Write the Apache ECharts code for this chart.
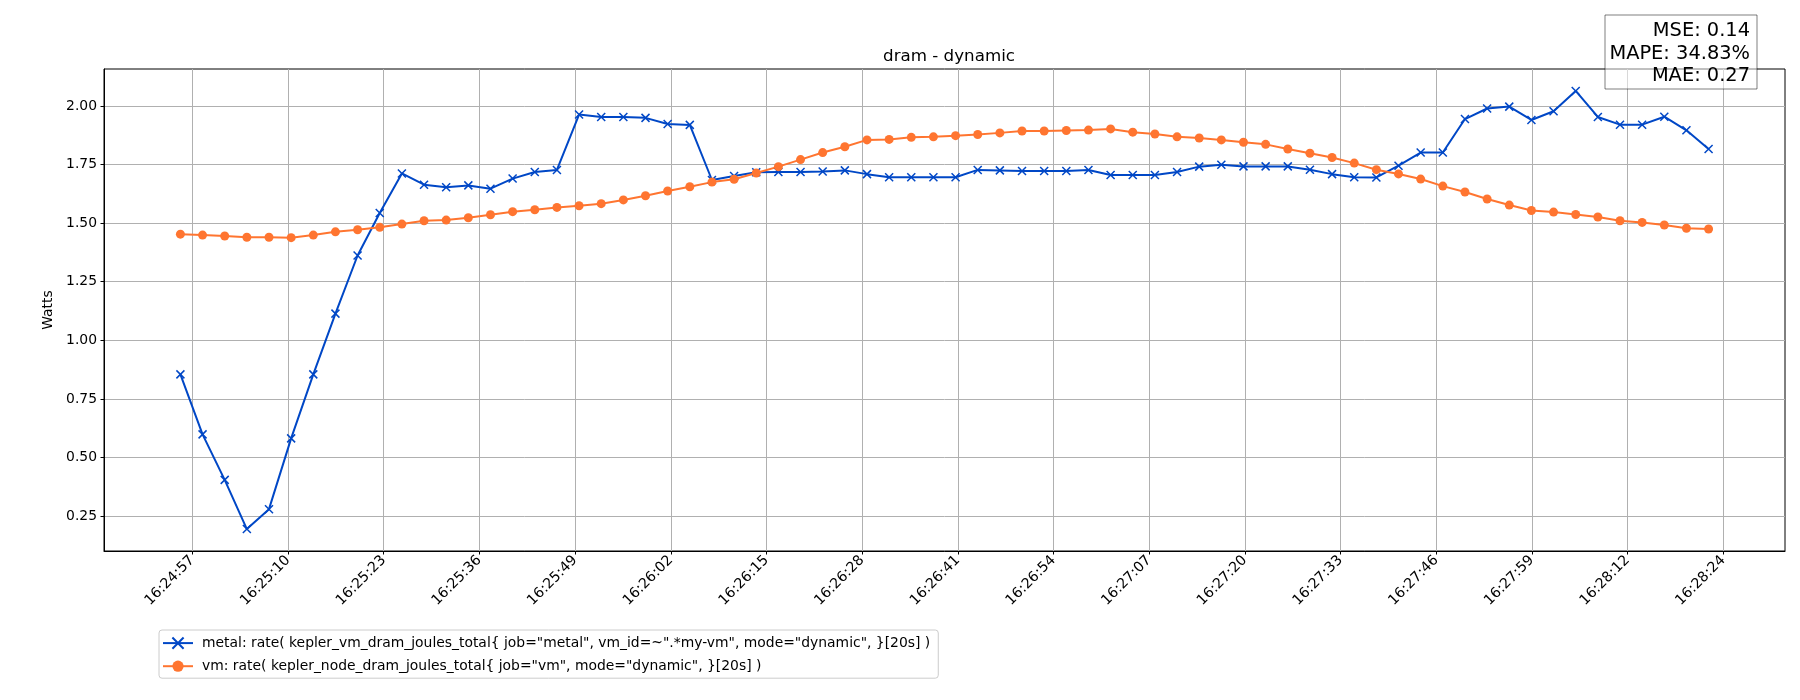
<!DOCTYPE html>
<html>
<head>
<meta charset="utf-8">
<title>dram - dynamic</title>
<script src="https://cdn.jsdelivr.net/npm/echarts@6/dist/echarts.min.js"></script>
<style>
  html, body { margin: 0; padding: 0; background: #fff; }
  #chart { width: 1800px; height: 700px; }
</style>
</head>
<body>
<div id="chart"></div>
<script>
// sample times (one every 3 s)
var times = [
  '16:24:56','16:24:59','16:25:02','16:25:05','16:25:08','16:25:11','16:25:14','16:25:17','16:25:20','16:25:23',
  '16:25:26','16:25:29','16:25:32','16:25:35','16:25:38','16:25:41','16:25:44','16:25:47','16:25:50','16:25:53',
  '16:25:56','16:25:59','16:26:02','16:26:05','16:26:08','16:26:11','16:26:14','16:26:17','16:26:20','16:26:23',
  '16:26:26','16:26:29','16:26:32','16:26:35','16:26:38','16:26:41','16:26:44','16:26:47','16:26:50','16:26:53',
  '16:26:56','16:26:59','16:27:02','16:27:05','16:27:08','16:27:11','16:27:14','16:27:17','16:27:20','16:27:23',
  '16:27:26','16:27:29','16:27:32','16:27:35','16:27:38','16:27:41','16:27:44','16:27:47','16:27:50','16:27:53',
  '16:27:56','16:27:59','16:28:02','16:28:05','16:28:08','16:28:11','16:28:14','16:28:17','16:28:20','16:28:23'
];

var metal = [
  0.855, 0.599, 0.405, 0.195, 0.280, 0.582, 0.855, 1.114, 1.362, 1.543,
  1.712, 1.664, 1.653, 1.661, 1.647, 1.690, 1.718, 1.727, 1.963, 1.953,
  1.953, 1.949, 1.923, 1.919, 1.684, 1.701, 1.717, 1.718, 1.718, 1.720,
  1.725, 1.709, 1.696, 1.696, 1.696, 1.696, 1.727, 1.725, 1.722, 1.722,
  1.722, 1.727, 1.705, 1.705, 1.705, 1.718, 1.741, 1.749, 1.742, 1.742,
  1.742, 1.728, 1.709, 1.696, 1.695, 1.745, 1.801, 1.801, 1.944, 1.989,
  1.997, 1.940, 1.977, 2.064, 1.953, 1.920, 1.920, 1.954, 1.896, 1.816
];

var vm = [
  1.453, 1.449, 1.445, 1.440, 1.440, 1.438, 1.449, 1.463, 1.472, 1.482,
  1.496, 1.510, 1.513, 1.523, 1.536, 1.549, 1.557, 1.567, 1.574, 1.583,
  1.599, 1.617, 1.637, 1.655, 1.675, 1.687, 1.714, 1.741, 1.771, 1.801,
  1.826, 1.855, 1.857, 1.866, 1.868, 1.873, 1.878, 1.885, 1.893, 1.893,
  1.895, 1.897, 1.902, 1.888, 1.880, 1.868, 1.863, 1.855, 1.845, 1.836,
  1.816, 1.798, 1.780, 1.756, 1.728, 1.710, 1.688, 1.658, 1.633, 1.603,
  1.577, 1.554, 1.547, 1.537, 1.526, 1.510, 1.503, 1.492, 1.478, 1.475
];

var xTickLabels = [
  '16:24:57','16:25:10','16:25:23','16:25:36','16:25:49','16:26:02','16:26:15','16:26:28','16:26:41',
  '16:26:54','16:27:07','16:27:20','16:27:33','16:27:46','16:27:59','16:28:12','16:28:24'
];
var yTicks = [0.25, 0.50, 0.75, 1.00, 1.25, 1.50, 1.75, 2.00];

var metalName = 'metal: rate( kepler_vm_dram_joules_total{ job="metal", vm_id=~".*my-vm", mode="dynamic", }[20s] )';
var vmName = 'vm: rate( kepler_node_dram_joules_total{ job="vm", mode="dynamic", }[20s] )';
var statsText = 'MSE: 0.14\nMAPE: 34.83%\nMAE: 0.27';

// seconds after 16:24:00
function toSec(t) {
  var p = t.split(':');
  return (+p[0] - 16) * 3600 + (+p[1] - 24) * 60 + (+p[2]);
}
var xs = times.map(toSec);

// ticks sit at fractional seconds, labels are truncated times
var tickStart = 57.62, tickStep = 12.96;
var xTickVals = xTickLabels.map(function (l, i) { return +(tickStart + i * tickStep).toFixed(3); });

var span = xs[xs.length - 1] - xs[0];
var xMin = xs[0] - span * 0.05, xMax = xs[xs.length - 1] + span * 0.05;
var lo = Math.min.apply(null, metal.concat(vm)), hi = Math.max.apply(null, metal.concat(vm));
var yMin = lo - (hi - lo) * 0.05, yMax = hi + (hi - lo) * 0.05;

var blue = '#0047c6';
var orange = '#ff7530';
var font = 'DejaVu Sans';

var chart = echarts.init(document.getElementById('chart'));
chart.setOption({
  animation: false,
  backgroundColor: '#fff',
  title: {
    text: 'dram - dynamic',
    left: 944, top: 43, textAlign: 'center',
    textStyle: { fontFamily: font, fontSize: 16.7, fontWeight: 'normal', color: '#000' }
  },
  grid: {
    left: 104, right: 15, top: 69, bottom: 149,
    show: true, borderColor: '#000', borderWidth: 1, backgroundColor: 'transparent'
  },
  legend: {
    orient: 'vertical',
    left: 159, top: 630,
    padding: [5, 8, 5, 3],
    itemWidth: 30, itemHeight: 14, itemGap: 8,
    borderColor: '#cccccc', borderWidth: 1, borderRadius: 3,
    backgroundColor: 'rgba(255,255,255,0.8)',
    textStyle: { fontFamily: font, fontSize: 13.9, color: '#000', padding: [0, 0, 0, 4] },
    data: [metalName, vmName]
  },
  xAxis: {
    type: 'value',
    min: xMin, max: xMax,
    axisLine: { show: true, onZero: false, lineStyle: { color: '#000', width: 1 } },
    axisTick: { show: true, length: 3.5, lineStyle: { color: '#000' }, customValues: xTickVals },
    axisLabel: {
      customValues: xTickVals,
      rotate: 45, margin: 7,
      fontFamily: font, fontSize: 14.2, color: '#000',
      formatter: function (v) {
        var best = 0;
        for (var i = 1; i < xTickVals.length; i++) {
          if (Math.abs(xTickVals[i] - v) < Math.abs(xTickVals[best] - v)) best = i;
        }
        return xTickLabels[best];
      }
    },
    splitLine: { show: true, lineStyle: { color: '#b0b0b0', width: 1 } }
  },
  yAxis: {
    type: 'value',
    min: yMin, max: yMax,
    name: 'Watts', nameLocation: 'middle', nameGap: 44,
    nameTextStyle: { fontFamily: font, fontSize: 13.9, color: '#000' },
    axisLine: { show: true, lineStyle: { color: '#000', width: 1 } },
    axisTick: { show: true, length: 3.5, lineStyle: { color: '#000' }, customValues: yTicks },
    axisLabel: {
      customValues: yTicks, margin: 7,
      fontFamily: font, fontSize: 13.9, color: '#000',
      formatter: function (v) { return v.toFixed(2); }
    },
    splitLine: { show: true, lineStyle: { color: '#b0b0b0', width: 1 } }
  },
  series: [
    {
      name: metalName,
      type: 'line',
      data: xs.map(function (x, i) { return [x, metal[i]]; }),
      symbol: 'path://M0,0L10,10M10,0L0,10',
      symbolSize: 8,
      showAllSymbol: true,
      lineStyle: { color: blue, width: 2 },
      itemStyle: { color: 'none', borderColor: blue, borderWidth: 1.5 }
    },
    {
      name: vmName,
      type: 'line',
      data: xs.map(function (x, i) { return [x, vm[i]]; }),
      symbol: 'circle',
      symbolSize: 9,
      showAllSymbol: true,
      lineStyle: { color: orange, width: 2 },
      itemStyle: { color: orange, borderWidth: 0 }
    }
  ],
  graphic: [
    {
      type: 'rect', z: 100,
      shape: { x: 1605, y: 15, width: 152, height: 74 },
      style: { fill: 'rgba(255,255,255,0.5)', stroke: 'rgba(0,0,0,0.5)', lineWidth: 1 }
    },
    {
      type: 'text', z: 101,
      x: 1750, y: 20,
      style: {
        text: statsText, align: 'right', verticalAlign: 'top',
        font: '19.4px "DejaVu Sans"', lineHeight: 22.5, fill: '#000'
      }
    }
  ]
});
</script>
</body>
</html>
